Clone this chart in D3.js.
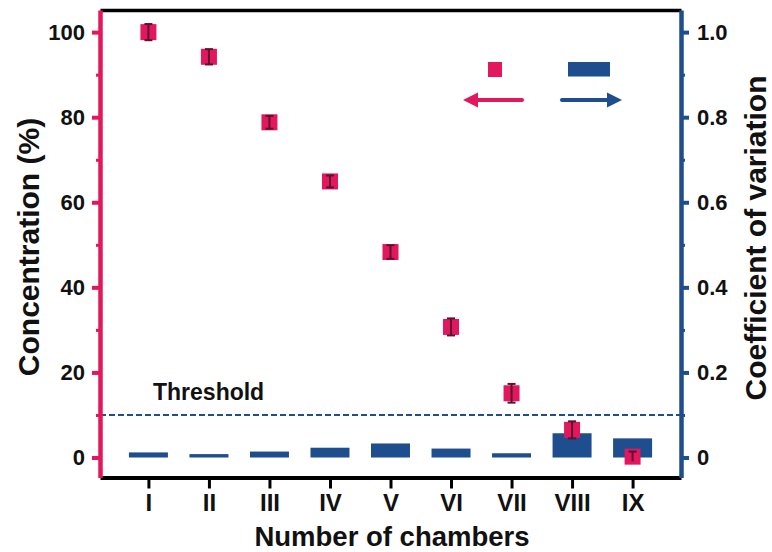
<!DOCTYPE html>
<html>
<head>
<meta charset="utf-8">
<script src="https://cdn.jsdelivr.net/npm/d3@7"></script>
<style>
  body { margin: 0; background: #fff; }
  text { font-family: "Liberation Sans", Arial, sans-serif; font-weight: bold; fill: #111; }
</style>
</head>
<body>
<svg id="chart" width="772" height="552"></svg>
<script>
// chambers on the x axis
const chambers = ["I", "II", "III", "IV", "V", "VI", "VII", "VIII", "IX"];
// concentration (%) - left axis, with error
const concentration = [100, 94.2, 78.8, 64.9, 48.3, 30.7, 15.1, 6.5, 0.2];
const concError = [1.9, 1.8, 1.5, 1.4, 1.6, 2.0, 2.2, 2.0, 1.2];
// coefficient of variation - right axis
const cv = [0.012, 0.008, 0.014, 0.023, 0.033, 0.021, 0.010, 0.057, 0.045];
const threshold = 0.1;

const leftTicks = [0, 20, 40, 60, 80, 100];
const leftMinor = [10, 30, 50, 70, 90];
const rightTicks = [0, 0.2, 0.4, 0.6, 0.8, 1.0];
const rightMinor = [0.1, 0.3, 0.5, 0.7, 0.9];

const pink = "#e2175d", blue = "#1f4e8e", dark = "#5c1230";

const svg = d3.select("#chart");
const L = 100, R = 681, T = 10, B = 477.5;

const x = d3.scalePoint().domain(chambers).range([L, R]).padding(0.8);
const y = d3.scaleLinear().domain([-4.7, 105.2]).range([B, T]);
const y2 = d3.scaleLinear().domain([-0.047, 1.052]).range([B, T]);

// threshold line
svg.append("line")
    .attr("x1", L).attr("x2", R)
    .attr("y1", y2(threshold)).attr("y2", y2(threshold))
    .attr("stroke", blue).attr("stroke-width", 2)
    .attr("stroke-dasharray", "6,3");
svg.append("text")
    .attr("x", 153).attr("y", y2(threshold) - 15)
    .style("font-size", "23px")
    .text("Threshold");

// CV bars
svg.append("g").selectAll("rect")
    .data(cv)
    .enter().append("rect")
    .attr("x", (d, i) => x(chambers[i]) - 19.5)
    .attr("width", 39)
    .attr("y", d => y2(d))
    .attr("height", d => y2(0) - y2(d))
    .attr("fill", blue);

// concentration markers with error bars
const pts = svg.append("g").selectAll("g")
    .data(concentration)
    .enter().append("g")
    .attr("transform", (d, i) => "translate(" + x(chambers[i]) + "," + y(d) + ")");
pts.append("rect")
    .attr("x", -8).attr("y", -8).attr("width", 16).attr("height", 16)
    .attr("fill", pink);
pts.append("line")
    .attr("x1", 0).attr("x2", 0)
    .attr("y1", (d, i) => y(d + concError[i]) - y(d))
    .attr("y2", (d, i) => y(Math.max(d - concError[i], -0.9)) - y(d))
    .attr("stroke", dark).attr("stroke-width", 2);
pts.append("line")
    .attr("x1", -4).attr("x2", 4)
    .attr("y1", (d, i) => y(d + concError[i]) - y(d))
    .attr("y2", (d, i) => y(d + concError[i]) - y(d))
    .attr("stroke", dark).attr("stroke-width", 2);
pts.append("line")
    .attr("x1", -4).attr("x2", 4)
    .attr("y1", (d, i) => y(d - concError[i]) - y(d))
    .attr("y2", (d, i) => y(d - concError[i]) - y(d))
    .attr("stroke", dark).attr("stroke-width", 2)
    .attr("display", (d, i) => d - concError[i] < -0.9 ? "none" : null);

// top frame line
svg.append("g")
    .attr("transform", "translate(0," + T + ")")
    .call(d3.axisTop(x).tickValues([]).tickSizeOuter(0))
    .call(g => g.select(".domain").attr("stroke", "#000").attr("stroke-width", 3.5));

// bottom axis
const xAxis = svg.append("g")
    .attr("transform", "translate(0," + B + ")")
    .call(d3.axisBottom(x).tickSize(11).tickSizeOuter(0).tickPadding(5));
xAxis.select(".domain").attr("stroke", "#000").attr("stroke-width", 4);
xAxis.selectAll(".tick line").attr("stroke", "#000").attr("stroke-width", 3);
xAxis.selectAll(".tick text").style("font-size", "24px").attr("fill", "#111");

// left axis (pink)
const yMinor = svg.append("g")
    .attr("transform", "translate(" + L + ",0)")
    .call(d3.axisLeft(y).tickValues(leftMinor).tickSize(4).tickFormat(""));
yMinor.select(".domain").remove();
yMinor.selectAll(".tick line").attr("stroke", pink).attr("stroke-width", 3);

const yAxis = svg.append("g")
    .attr("transform", "translate(" + L + ",0)")
    .call(d3.axisLeft(y).tickValues(leftTicks).tickSize(8).tickSizeOuter(0).tickPadding(7));
yAxis.select(".domain").attr("stroke", pink).attr("stroke-width", 4.5);
yAxis.selectAll(".tick line").attr("stroke", pink).attr("stroke-width", 4);
yAxis.selectAll(".tick text").style("font-size", "22px").attr("fill", "#111");

// right axis (blue)
const y2Minor = svg.append("g")
    .attr("transform", "translate(" + R + ",0)")
    .call(d3.axisRight(y2).tickValues(rightMinor).tickSize(4).tickFormat(""));
y2Minor.select(".domain").remove();
y2Minor.selectAll(".tick line").attr("stroke", blue).attr("stroke-width", 3);

const y2Axis = svg.append("g")
    .attr("transform", "translate(" + R + ",0)")
    .call(d3.axisRight(y2).tickValues(rightTicks).tickSize(8).tickSizeOuter(0).tickPadding(8)
        .tickFormat(d => d === 0 ? "0" : d.toFixed(1)));
y2Axis.select(".domain").attr("stroke", blue).attr("stroke-width", 4.5);
y2Axis.selectAll(".tick line").attr("stroke", blue).attr("stroke-width", 4);
y2Axis.selectAll(".tick text").style("font-size", "22px").attr("fill", "#111");

// axis titles
svg.append("text")
    .attr("transform", "translate(39,247) rotate(-90)")
    .attr("text-anchor", "middle")
    .style("font-size", "30px")
    .text("Concentration (%)");
svg.append("text")
    .attr("transform", "translate(766,238) rotate(-90)")
    .attr("text-anchor", "middle")
    .style("font-size", "30px")
    .text("Coefficient of variation");
svg.append("text")
    .attr("x", 392).attr("y", 546)
    .attr("text-anchor", "middle")
    .style("font-size", "27.5px")
    .text("Number of chambers");

// legend: square + left arrow for concentration, bar + right arrow for CV
const leg = svg.append("g");
leg.append("rect").attr("x", 488).attr("y", 62).attr("width", 14).attr("height", 15).attr("fill", pink);
leg.append("line").attr("x1", 474).attr("x2", 522).attr("y1", 100).attr("y2", 100)
    .attr("stroke", pink).attr("stroke-width", 4).attr("stroke-linecap", "round");
leg.append("path").attr("d", "M463,100 L478,92.5 L478,107.5 Z").attr("fill", pink);
leg.append("rect").attr("x", 568).attr("y", 62).attr("width", 42).attr("height", 14.5).attr("fill", blue);
leg.append("line").attr("x1", 562).attr("x2", 610).attr("y1", 100).attr("y2", 100)
    .attr("stroke", blue).attr("stroke-width", 4).attr("stroke-linecap", "round");
leg.append("path").attr("d", "M622,100 L607,92.5 L607,107.5 Z").attr("fill", blue);
</script>
</body>
</html>
